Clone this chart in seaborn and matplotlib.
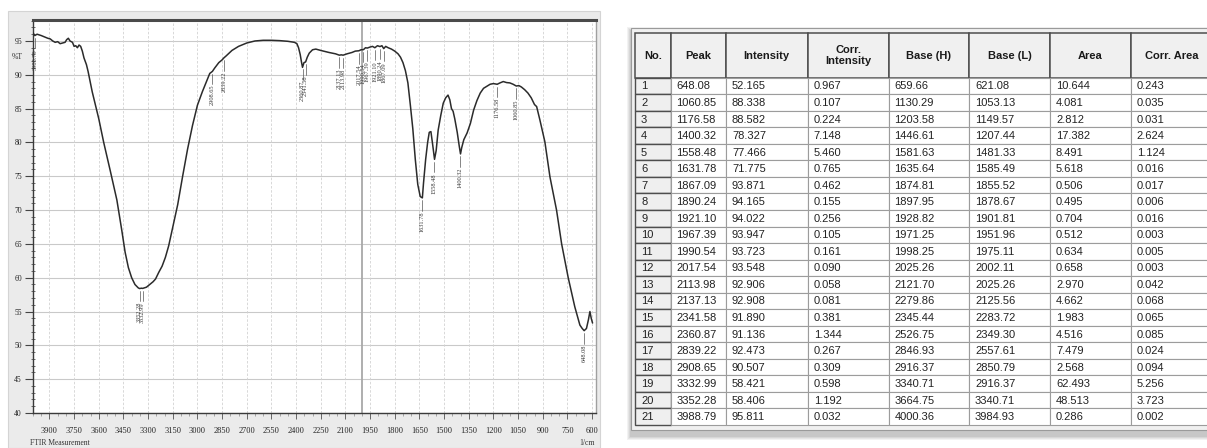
import numpy as np
import pandas as pd
import matplotlib
matplotlib.use("Agg")
import matplotlib.pyplot as plt
from matplotlib.patches import Rectangle
from matplotlib.ticker import FixedLocator, MultipleLocator
import seaborn as sns

# ----------------------------------------------------------------------
# data: spectrum trace and peak table
# ----------------------------------------------------------------------
wavenumber = [4000, 3989, 3975, 3950, 3930, 3910, 3895, 3880, 3865, 3850, 3835,
              3820, 3805, 3795, 3785, 3775, 3760, 3750, 3740, 3730, 3720, 3710,
              3700, 3690, 3675, 3665, 3655, 3640, 3620, 3600, 3570, 3530, 3490,
              3460, 3440, 3420, 3400, 3380, 3360, 3352, 3340, 3333, 3310, 3290,
              3270, 3255, 3235, 3215, 3195, 3175, 3150, 3120, 3090, 3060, 3030,
              3000, 2970, 2945, 2925, 2909, 2895, 2870, 2850, 2839, 2825, 2790,
              2750, 2700, 2650, 2600, 2550, 2500, 2450, 2410, 2395, 2385, 2375,
              2368, 2361, 2352, 2342, 2332, 2320, 2300, 2280, 2250, 2200, 2160,
              2137, 2125, 2114, 2090, 2060, 2040, 2018, 2005, 1990, 1978, 1967,
              1950, 1935, 1921, 1905, 1890, 1878, 1867, 1855, 1840, 1820, 1800,
              1780, 1765, 1750, 1735, 1720, 1705, 1690, 1675, 1660, 1645, 1632,
              1625, 1612, 1600, 1590, 1580, 1570, 1558, 1548, 1536, 1520, 1505,
              1490, 1476, 1465, 1455, 1445, 1435, 1420, 1408, 1400, 1393, 1380,
              1360, 1340, 1320, 1300, 1280, 1260, 1240, 1220, 1200, 1177, 1160,
              1140, 1120, 1100, 1080, 1061, 1045, 1030, 1010, 990, 970, 950,
              937, 917, 887, 856, 816, 785, 745, 705, 674, 660, 648, 634, 622,
              613, 605, 597]
transmittance = [96.2, 95.8, 96.0, 95.8, 95.6, 95.4, 95.3, 95.0, 94.8, 94.9, 94.6,
                 94.7, 94.8, 95.2, 95.4, 95.0, 94.8, 94.2, 94.3, 94.0, 94.4, 94.2,
                 93.5, 92.5, 91.5, 90.5, 89.3, 87.5, 85.5, 83.5, 80.0, 75.8, 71.5,
                 67.0, 63.8, 61.5, 60.0, 59.0, 58.5, 58.4, 58.45, 58.42, 58.6, 59.0,
                 59.4, 59.8, 60.8, 61.7, 63.0, 64.7, 67.5, 70.8, 75.0, 79.0, 82.5,
                 85.5, 87.5, 89.0, 90.2, 90.5, 91.0, 91.8, 92.2, 92.5, 92.8, 93.6,
                 94.2, 94.7, 95.0, 95.1, 95.1, 95.05, 94.95, 94.8, 94.6, 94.0, 93.0,
                 92.0, 91.1, 91.8, 91.9, 92.6, 93.2, 93.7, 93.8, 93.6, 93.3, 93.1,
                 92.9, 92.95, 92.9, 93.1, 93.3, 93.5, 93.55, 93.7, 93.72, 94.0, 93.95,
                 94.1, 94.2, 94.0, 94.3, 94.17, 94.3, 93.87, 94.2, 94.0, 93.8, 93.5,
                 93.1, 92.6, 91.8, 90.6, 88.8, 85.5, 82.0, 77.5, 73.8, 72.0, 71.8,
                 74.0, 77.5, 80.0, 81.5, 81.6, 79.8, 77.5, 78.8, 81.8, 84.0, 85.8,
                 86.6, 87.0, 86.3, 85.0, 84.6, 83.5, 81.5, 79.5, 78.3, 79.2, 80.4,
                 81.4, 82.8, 84.8, 86.2, 87.3, 88.0, 88.3, 88.6, 88.7, 88.6, 88.8,
                 89.0, 88.85, 88.8, 88.6, 88.34, 88.4, 88.2, 87.8, 87.3, 86.6, 85.6,
                 85.3, 83.3, 80.1, 74.9, 70.0, 65.0, 60.0, 55.7, 53.0, 52.5, 52.17,
                 52.5, 53.8, 55.0, 54.0, 53.3]

x_ticks = [3900, 3750, 3600, 3450, 3300, 3150, 3000, 2850, 2700, 2550, 2400,
           2250, 2100, 1950, 1800, 1650, 1500, 1350, 1200, 1050, 900, 750, 600]
y_ticks = [40, 45, 50, 55, 60, 65, 70, 75, 80, 85, 90, 95]

peak_no = list(range(1, 22))
peak = [648.08, 1060.85, 1176.58, 1400.32, 1558.48, 1631.78, 1867.09, 1890.24,
        1921.10, 1967.39, 1990.54, 2017.54, 2113.98, 2137.13, 2341.58, 2360.87,
        2839.22, 2908.65, 3332.99, 3352.28, 3988.79]
intensity = [52.165, 88.338, 88.582, 78.327, 77.466, 71.775, 93.871, 94.165,
             94.022, 93.947, 93.723, 93.548, 92.906, 92.908, 91.890, 91.136,
             92.473, 90.507, 58.421, 58.406, 95.811]
corr_intensity = [0.967, 0.107, 0.224, 7.148, 5.460, 0.765, 0.462, 0.155, 0.256,
                  0.105, 0.161, 0.090, 0.058, 0.081, 0.381, 1.344, 0.267, 0.309,
                  0.598, 1.192, 0.032]
base_h = [659.66, 1130.29, 1203.58, 1446.61, 1581.63, 1635.64, 1874.81, 1897.95,
          1928.82, 1971.25, 1998.25, 2025.26, 2121.70, 2279.86, 2345.44, 2526.75,
          2846.93, 2916.37, 3340.71, 3664.75, 4000.36]
base_l = [621.08, 1053.13, 1149.57, 1207.44, 1481.33, 1585.49, 1855.52, 1878.67,
          1901.81, 1951.96, 1975.11, 2002.11, 2025.26, 2125.56, 2283.72, 2349.30,
          2557.61, 2850.79, 2916.37, 3340.71, 3984.93]
area = [10.644, 4.081, 2.812, 17.382, 8.491, 5.618, 0.506, 0.495, 0.704, 0.512,
        0.634, 0.658, 2.970, 4.662, 1.983, 4.516, 7.479, 2.568, 62.493, 48.513,
        0.286]
corr_area = [0.243, 0.035, 0.031, 2.624, 1.124, 0.016, 0.017, 0.006, 0.016, 0.003,
             0.005, 0.003, 0.042, 0.068, 0.065, 0.085, 0.024, 0.094, 5.256, 3.723,
             0.002]

headers = ["No.", "Peak", "Intensity", "Corr.\nIntensity", "Base (H)",
           "Base (L)", "Area", "Corr. Area"]

spec = pd.DataFrame({"wn": wavenumber, "T": transmittance})
table = pd.DataFrame({"No.": peak_no, "Peak": peak, "Intensity": intensity,
                      "Corr. Intensity": corr_intensity, "Base (H)": base_h,
                      "Base (L)": base_l, "Area": area, "Corr. Area": corr_area})
fmts = ["{:d}", "{:.2f}", "{:.3f}", "{:.3f}", "{:.2f}", "{:.2f}", "{:.3f}", "{:.3f}"]

# ----------------------------------------------------------------------
# figure setup (pixel helpers for a 1207x448 canvas)
# ----------------------------------------------------------------------
sns.set_theme(style="white")
plt.rcParams["font.family"] = ["Liberation Sans", "DejaVu Sans"]

W, H = 1207, 448
fig = plt.figure(figsize=(W / 100, H / 100), dpi=100)
fig.patch.set_facecolor("white")

def fx(px):
    return px / W

def fy(py):
    return 1 - py / H

# gray instrument panel behind the spectrum
fig.add_artist(Rectangle((fx(8), fy(448)), fx(600) - fx(8), fy(11) - fy(448),
                         transform=fig.transFigure, facecolor="#ebebeb",
                         edgecolor="#d4d4d4", lw=0.8, zorder=0))

# ----------------------------------------------------------------------
# spectrum
# ----------------------------------------------------------------------
ax = fig.add_axes([fx(33), fy(413), fx(596) - fx(33), fy(20) - fy(413)])
ax.set_facecolor("white")
sns.lineplot(data=spec, x="wn", y="T", sort=False, estimator=None,
             color="#2b2b2b", lw=1.1, ax=ax, zorder=4)
ax.set_xlim(4000, 576)
ax.set_ylim(40, 98.1)
ax.set_xlabel("")
ax.set_ylabel("")

ax.xaxis.set_major_locator(FixedLocator(x_ticks))
ax.xaxis.set_minor_locator(MultipleLocator(50))
ax.yaxis.set_major_locator(FixedLocator(y_ticks))
ax.yaxis.set_minor_locator(MultipleLocator(1))
ax.set_xticklabels([str(t) for t in x_ticks], family="Liberation Serif", fontsize=6)
ax.set_yticklabels([str(t) for t in y_ticks], family="Liberation Serif", fontsize=5.5)

ax.tick_params(axis="y", which="major", direction="out", length=6, width=0.8,
               pad=2, color="#444444", left=True)
ax.tick_params(axis="y", which="minor", direction="inout", length=3, width=0.6,
               color="#555555", left=True)
ax.tick_params(axis="x", which="major", direction="out", length=4.5, width=0.7,
               pad=5.5, color="#666666", bottom=True)
ax.tick_params(axis="x", which="minor", direction="out", length=2.5, width=0.5,
               color="#888888", bottom=True)

ax.grid(False)
for t in y_ticks:
    ax.axhline(t, color="#c9c9c9", lw=0.8, zorder=1)
for t in x_ticks:
    ax.axvline(t, color="#d2d2d2", lw=0.6, ls=(0, (3, 2)), zorder=1)
ax.axvline(2000, color="#a8a8a8", lw=1.3, zorder=2)

for side, (c, w) in {"top": ("#4a4a4a", 2.2), "left": ("#3a3a3a", 1.0),
                     "right": ("#a0a0a0", 1.0), "bottom": ("#3a3a3a", 1.0)}.items():
    ax.spines[side].set_visible(True)
    ax.spines[side].set_color(c)
    ax.spines[side].set_linewidth(w)

# peak markers below each minimum
for p, t in zip(peak, intensity):
    ax.plot([p, p], [t - 0.35, t - 1.9], color="#555555", lw=0.5, zorder=3)
    ax.text(p, t - 2.0, f"{p:.2f}", rotation=90, ha="center", va="top",
            fontsize=4.6, family="Liberation Serif", color="#3c3c3c", zorder=3)

fig.text(fx(12), fy(57), "%T", fontsize=5.5, family="Liberation Serif",
         va="center", ha="left", color="#333333")
fig.text(fx(30), fy(443), "FTIR Measurement", fontsize=5.5,
         family="Liberation Serif", va="center", ha="left", color="#333333")
fig.text(fx(579), fy(443), "1/cm", fontsize=5.5, family="Liberation Serif",
         va="center", ha="left", color="#333333")

# ----------------------------------------------------------------------
# peak table
# ----------------------------------------------------------------------
tab = fig.add_axes([fx(620), fy(448), fx(1207) - fx(620), fy(20) - fy(448)])
tab.set_xlim(620, 1207)
tab.set_ylim(448, 20)
tab.axis("off")

# soft drop shadow and window frame
for i, a in enumerate([0.05, 0.05, 0.06, 0.07]):
    d = 5 - i
    tab.add_patch(Rectangle((628 - d + 4, 27 - d + 5), 600 + 2 * d, 403 + 2 * d,
                            facecolor="black", alpha=a, lw=0))
tab.add_patch(Rectangle((631, 28), 590, 402, facecolor="#f0f0f0",
                        edgecolor="#9a9a9a", lw=0.8))

col_edges = [635, 670.5, 726, 807.6, 888.5, 969, 1050, 1130.7, 1212]
head_top, head_bot = 33.3, 77.7
row_h = (425 - head_bot) / len(peak_no)

for j, name in enumerate(headers):
    x0, x1 = col_edges[j], col_edges[j + 1]
    tab.add_patch(Rectangle((x0, head_top), x1 - x0, head_bot - head_top,
                            facecolor="#f0f0f0", edgecolor="#4d4d4d", lw=1.1))
    tab.text((x0 + x1) / 2, (head_top + head_bot) / 2, name, ha="center",
             va="center", fontsize=8, fontweight="bold", color="#1a1a1a",
             linespacing=1.1)

for i in range(len(table)):
    y0 = head_bot + i * row_h
    for j, col in enumerate(table.columns):
        x0, x1 = col_edges[j], col_edges[j + 1]
        if j == 0:
            tab.add_patch(Rectangle((x0, y0), x1 - x0, row_h, facecolor="#efefef",
                                    edgecolor="#4d4d4d", lw=1.0))
            label = fmts[j].format(int(table.iloc[i][col]))
        else:
            tab.add_patch(Rectangle((x0, y0), x1 - x0, row_h, facecolor="white",
                                    edgecolor="#9c9c9c", lw=0.8))
            label = fmts[j].format(table.iloc[i][col])
        tab.text(x0 + 6, y0 + row_h / 2 + 0.5, label,
                 ha="left", va="center", fontsize=8, color="#222222")

fig.savefig("out.png", dpi=100)
